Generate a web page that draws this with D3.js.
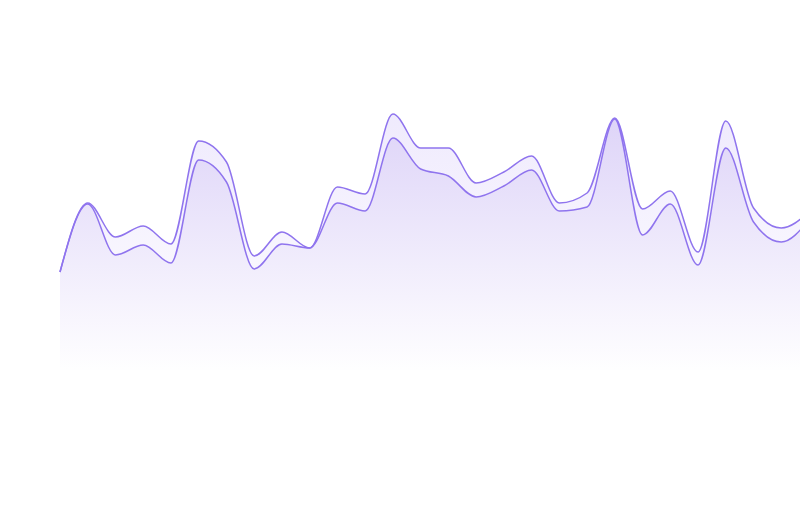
<!DOCTYPE html>
<html><head><meta charset="utf-8">
<script src="https://cdn.jsdelivr.net/npm/d3@7"></script>
<style>body{margin:0;background:#fff}svg{display:block}</style></head>
<body><svg id="c" width="800" height="509"></svg>
<script>
const indices = d3.range(28);
const seriesA = [148,216,165,175,157,260,238,151,176,172,217,209,282,251,244,223,234,250,209,213,301,185,216,155,272,198,178,200];
const seriesB = [0,1,18,19,19,19,20,13,12,0,16,17,24,21,28,14,14,14,8,14,1,26,13,13,27,14,14,8];

const svg = d3.select("#c");
const x = d3.scaleLinear().domain([0,27]).range([60,809]);
const y = d3.scaleLinear().domain([0,420]).range([420,0]);
const upper = seriesA.map((a,i)=>a+seriesB[i]);

const defs = svg.append("defs");
const g1 = defs.append("linearGradient").attr("id","g1").attr("x1",0).attr("x2",0)
  .attr("gradientUnits","userSpaceOnUse").attr("y1",110).attr("y2",375);
g1.append("stop").attr("offset",0).attr("stop-color","#ddd3f8");
g1.append("stop").attr("offset",1).attr("stop-color","#ffffff");
const g2 = defs.append("linearGradient").attr("id","g2").attr("x1",0).attr("x2",0)
  .attr("gradientUnits","userSpaceOnUse").attr("y1",110).attr("y2",375);
g2.append("stop").attr("offset",0).attr("stop-color","#efeafd");
g2.append("stop").attr("offset",1).attr("stop-color","#ffffff");

const curve = d3.curveMonotoneX;
const base = 50;
svg.append("path").attr("fill","url(#g2)")
  .attr("d", d3.area().curve(curve).x((d,i)=>x(i)).y0((d,i)=>y(seriesA[i])).y1(d=>y(d))(upper));
svg.append("path").attr("fill","url(#g1)")
  .attr("d", d3.area().curve(curve).x((d,i)=>x(i)).y0(y(base)).y1(d=>y(d))(seriesA));
const line = d3.line().curve(curve).x((d,i)=>x(i)).y(d=>y(d));
svg.append("path").attr("fill","none").attr("stroke","#8f74ee").attr("stroke-width",1.5).attr("d",line(seriesA));
svg.append("path").attr("fill","none").attr("stroke","#8f74ee").attr("stroke-width",1.5).attr("d",line(upper));
</script></body></html>
